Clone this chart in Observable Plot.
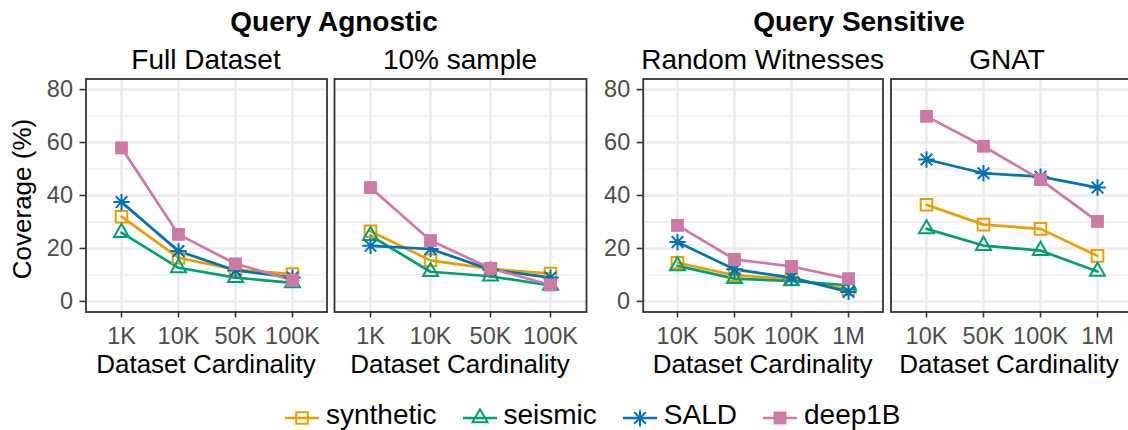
<!DOCTYPE html>
<html><head><meta charset="utf-8">
<script src="https://cdn.jsdelivr.net/npm/d3@7"></script>
<script src="https://cdn.jsdelivr.net/npm/@observablehq/plot@0.6"></script>
<style>
body{margin:0;background:#fff;}
#chart{position:relative;width:1128px;height:430px;overflow:hidden;background:#fff;font-family:"Liberation Sans",Arial,Helvetica,sans-serif;color:#000;}
.t{position:absolute;white-space:nowrap;line-height:1;}
.p{position:absolute;top:0;}
#legend{position:absolute;left:285px;top:404px;height:28px;display:flex;align-items:center;font-size:28px;}
#legend .item{display:flex;align-items:center;margin-right:26px;}
#legend svg{margin-right:7px;display:block;}
#legend span{position:relative;top:-3px;line-height:28px;}
</style></head><body><div id="chart"></div>
<script>
// ---- data ----
const seriesNames = ["synthetic", "seismic", "SALD", "deep1B"];
const seriesColors = ["#E69F00", "#009E73", "#0072B2", "#CC79A7"];
const agnosticSizes = ["1K", "10K", "50K", "100K"];
const sensitiveSizes = ["10K", "50K", "100K", "1M"];
const yTicks = [0, 20, 40, 60, 80];
const yMinorTicks = [10, 30, 50, 70];

// Query Agnostic — Full Dataset
const full_synthetic = [32, 16.5, 12, 10.3];
const full_seismic   = [26, 12.7, 9, 7];
const full_SALD      = [37.5, 19, 11.7, 9];
const full_deep1B    = [58, 25.3, 14.2, 8];
// Query Agnostic — 10% sample
const sample_synthetic = [26.5, 15.5, 12.3, 10.5];
const sample_seismic   = [24.8, 11.2, 9.5, 6];
const sample_SALD      = [21, 19.8, 12, 9];
const sample_deep1B    = [43, 23, 12.5, 6.2];
// Query Sensitive — Random Witnesses
const rw_synthetic = [14.6, 9.9, 8.4, 4.6];
const rw_seismic   = [13.4, 8.6, 7.7, 6.1];
const rw_SALD      = [22.4, 12.1, 9, 3.6];
const rw_deep1B    = [28.7, 15.9, 13.2, 8.6];
// Query Sensitive — GNAT
const gnat_synthetic = [36.5, 29, 27.4, 17.2];
const gnat_seismic   = [27.4, 21.1, 19.2, 11.3];
const gnat_SALD      = [53.6, 48.4, 47.1, 43];
const gnat_deep1B    = [69.9, 58.6, 46, 30.2];

// ---- marker shapes (ggplot shapes 0, 2, 8, 15) ----
const symOpenSquare = {draw(c){const h=5.8;c.moveTo(-h,-h);c.lineTo(h,-h);c.lineTo(h,h);c.lineTo(-h,h);c.closePath();}};
const symTriangle = {draw(c){c.moveTo(0,-8.7);c.lineTo(7.5,4.35);c.lineTo(-7.5,4.35);c.closePath();}};
const symAsterisk = {draw(c){const r=8.2,d=r*Math.SQRT1_2;c.moveTo(-r,0);c.lineTo(r,0);c.moveTo(0,-r);c.lineTo(0,r);c.moveTo(-d,-d);c.lineTo(d,d);c.moveTo(-d,d);c.lineTo(d,-d);}};
const symFilledSquare = {draw(c){const h=6.4;c.moveTo(-h,-h);c.lineTo(h,-h);c.lineTo(h,h);c.lineTo(-h,h);c.closePath();}};
const markers = [
  {symbol: symOpenSquare, filled: false},
  {symbol: symTriangle, filled: false},
  {symbol: symAsterisk, filled: false},
  {symbol: symFilledSquare, filled: true}
];

const FONT = '"Liberation Sans", Arial, Helvetica, sans-serif';
const chart = document.getElementById("chart");

const panels = [
  {strip: "Full Dataset", sizes: agnosticSizes, values: [full_synthetic, full_seismic, full_SALD, full_deep1B], left: 0, width: 330, ml: 85.5, mr: 3.5, yAxis: true},
  {strip: "10% sample", sizes: agnosticSizes, values: [sample_synthetic, sample_seismic, sample_SALD, sample_deep1B], left: 330, width: 260, ml: 4, mr: 4, yAxis: false},
  {strip: "Random Witnesses", sizes: sensitiveSizes, values: [rw_synthetic, rw_seismic, rw_SALD, rw_deep1B], left: 590, width: 296, ml: 52.7, mr: 3.5, yAxis: true},
  {strip: "GNAT", sizes: sensitiveSizes, values: [gnat_synthetic, gnat_seismic, gnat_SALD, gnat_deep1B], left: 886, width: 250, ml: 4.5, mr: 4.5, yAxis: false}
];

function addText(str, cx, baseline, size, weight) {
  const d = document.createElement("div");
  d.className = "t";
  d.textContent = str;
  d.style.fontSize = size + "px";
  d.style.fontWeight = weight || "normal";
  d.style.left = cx + "px";
  d.style.top = (baseline - 0.8465 * size) + "px";
  d.style.transform = "translateX(-50%)";
  chart.appendChild(d);
}

const TOP = 78.5, H = 360, BOTTOM = 48.5;

panels.forEach(p => {
  const data = [];
  seriesNames.forEach((s, i) => p.values[i].forEach((v, j) => data.push({size: p.sizes[j], series: s, value: v})));
  const marks = [
    Plot.ruleY(yMinorTicks, {stroke: "#ebebeb", strokeWidth: 1.3}),
    Plot.ruleY(yTicks, {stroke: "#ebebeb", strokeWidth: 2.5}),
    Plot.ruleX(p.sizes, {stroke: "#ebebeb", strokeWidth: 2.5})
  ];
  seriesNames.forEach((s, i) => {
    marks.push(Plot.line(data.filter(d => d.series === s), {x: "size", y: "value", stroke: seriesColors[i], strokeWidth: 2.7}));
  });
  seriesNames.forEach((s, i) => {
    const m = markers[i];
    marks.push(Plot.dot(data.filter(d => d.series === s), {
      x: "size", y: "value", symbol: m.symbol, r: 6,
      fill: m.filled ? seriesColors[i] : "none",
      stroke: m.filled ? "none" : seriesColors[i],
      strokeWidth: 2
    }));
  });
  marks.push(Plot.axisX(p.sizes, {tickSize: 6, tickPadding: 9, fontSize: 23.5, stroke: "#333333", fill: "#4d4d4d", strokeWidth: 1.6, label: null}));
  if (p.yAxis) marks.push(Plot.axisY(yTicks, {anchor: "left", tickSize: 6, tickPadding: 7, fontSize: 23.5, stroke: "#333333", fill: "#4d4d4d", strokeWidth: 1.6, label: null}));
  marks.push(Plot.frame({stroke: "#333333", strokeWidth: 1.8}));
  const svg = Plot.plot({
    width: p.width, height: H,
    marginLeft: p.ml, marginRight: p.mr, marginTop: TOP, marginBottom: BOTTOM,
    x: {type: "point", domain: p.sizes, padding: 0.6},
    y: p.yAxis ? {domain: [-4, 84]} : {domain: [-4, 84], axis: null},
    style: {fontFamily: FONT, fontSize: "23.5px", background: "transparent", overflow: "visible"},
    marks
  });
  svg.classList.add("p");
  svg.style.left = p.left + "px";
  chart.appendChild(svg);
  const cx = p.left + p.ml + (p.width - p.ml - p.mr) / 2;
  addText(p.strip, p.strip === "GNAT" ? 1007 : cx, 70, 28);
  addText("Dataset Cardinality", p.strip === "GNAT" ? 1009 : cx, 373.5, 26);
});

addText("Query Agnostic", 334, 31.5, 28, "bold");
addText("Query Sensitive", 859, 31.5, 28, "bold");

// y axis title
const yt = document.createElement("div");
yt.className = "t";
yt.textContent = "Coverage (%)";
yt.style.fontSize = "26px";
yt.style.left = "21.7px";
yt.style.top = "199px";
yt.style.transform = "translate(-50%,-50%) rotate(-90deg)";
chart.appendChild(yt);

// legend
const legend = document.createElement("div");
legend.id = "legend";
seriesNames.forEach((s, i) => {
  const item = document.createElement("div");
  item.className = "item";
  const m = markers[i];
  const path = d3.symbol(m.symbol)();
  item.innerHTML = `<svg width="34" height="28" viewBox="-17 -14 34 28"><line x1="-17" x2="17" y1="0" y2="0" stroke="${seriesColors[i]}" stroke-width="2.7"/><path d="${path}" fill="${m.filled ? seriesColors[i] : "none"}" stroke="${m.filled ? "none" : seriesColors[i]}" stroke-width="2"/></svg><span>${s}</span>`;
  legend.appendChild(item);
});
chart.appendChild(legend);
</script></body></html>
